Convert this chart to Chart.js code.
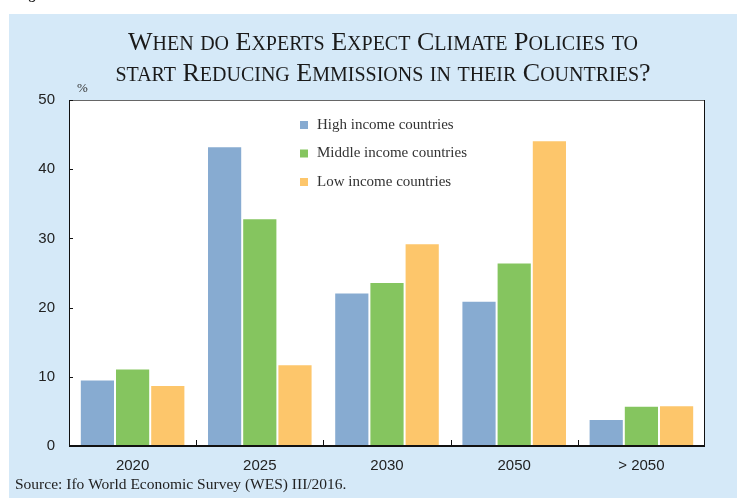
<!DOCTYPE html>
<html>
<head>
<meta charset="utf-8">
<script src="https://cdn.jsdelivr.net/npm/chart.js@4.4.0/dist/chart.umd.min.js"></script>
<style>
  html, body { margin: 0; padding: 0; background: #ffffff; }
  #chart { display: block; }
</style>
</head>
<body>
<canvas id="chart" width="737" height="498"></canvas>
<script>
const categories = ['2020', '2025', '2030', '2050', '> 2050'];
const highIncome = [9.6, 43.3, 22.2, 21.0, 3.9];
const middleIncome = [11.2, 32.9, 23.7, 26.5, 5.8];
const lowIncome = [8.8, 11.8, 29.3, 44.2, 5.9];
const seriesNames = ['High income countries', 'Middle income countries', 'Low income countries'];
const titleLines = ['When do Experts Expect Climate Policies to', 'start Reducing Emmissions in their Countries?'];
const sourceText = 'Source: Ifo World Economic Survey (WES) III/2016.';

const colors = ['#87abd1', '#85c55f', '#fdc66b'];
const serif = '"Liberation Serif", "Times New Roman", serif';
const sans = '"Liberation Sans", Arial, sans-serif';

// draw one line of text in small caps: capitals big, lower case as small capitals
function drawSmallCaps(ctx, text, cx, baseline, big, small) {
    const runs = [];
    for (const ch of text) {
        const isLower = ch !== ch.toUpperCase();
        const size = isLower ? small : big;
        const last = runs[runs.length - 1];
        if (last && last.size === size) last.text += ch.toUpperCase();
        else runs.push({ text: ch.toUpperCase(), size: size });
    }
    let width = 0;
    runs.forEach(r => {
        ctx.font = r.size + 'px ' + serif;
        r.w = ctx.measureText(r.text).width;
        width += r.w;
    });
    let x = cx - width / 2;
    ctx.textAlign = 'left';
    ctx.textBaseline = 'alphabetic';
    runs.forEach(r => {
        ctx.font = r.size + 'px ' + serif;
        ctx.fillText(r.text, x, baseline);
        x += r.w;
    });
}

const decorations = {
    id: 'decorations',
    beforeDraw(chart) {
        const ctx = chart.ctx;
        const area = chart.chartArea;
        ctx.save();
        // panel background
        ctx.fillStyle = '#d5e9f8';
        ctx.fillRect(9, 14, chart.width - 9, chart.height - 14);
        // cut-off heading above the panel
        ctx.fillStyle = '#222';
        ctx.font = 'bold 14px ' + serif;
        ctx.textBaseline = 'alphabetic';
        ctx.fillText('Figure', 16, -1);
        // plot area
        ctx.fillStyle = '#ffffff';
        ctx.fillRect(area.left, area.top, area.right - area.left, area.bottom - area.top);
        // title
        ctx.fillStyle = '#1a1a1a';
        const cx = 383;
        drawSmallCaps(ctx, titleLines[0], cx, 50, 26, 20);
        drawSmallCaps(ctx, titleLines[1], cx, 81, 26, 20);
        // unit
        ctx.font = '13px ' + serif;
        ctx.fillStyle = '#333';
        ctx.textAlign = 'left';
        ctx.fillText('%', 77, 92);
        // source
        ctx.font = '15.5px ' + serif;
        ctx.fillStyle = '#222';
        ctx.fillText(sourceText, 15, 489);
        ctx.restore();
    },
    afterDraw(chart) {
        const ctx = chart.ctx;
        const area = chart.chartArea;
        const y = chart.scales.y;
        const x = chart.scales.x;
        ctx.save();
        // frame
        ctx.lineWidth = 1;
        ctx.strokeStyle = '#666';
        ctx.beginPath();
        ctx.moveTo(area.left, area.top + 0.5);
        ctx.lineTo(area.right, area.top + 0.5);
        ctx.stroke();
        ctx.strokeStyle = '#111';
        ctx.beginPath();
        ctx.moveTo(area.left + 0.5, area.top);
        ctx.lineTo(area.left + 0.5, area.bottom);
        ctx.moveTo(area.right - 0.5, area.top);
        ctx.lineTo(area.right - 0.5, area.bottom);
        ctx.stroke();
        ctx.lineWidth = 2;
        ctx.beginPath();
        ctx.moveTo(area.left, area.bottom);
        ctx.lineTo(area.right, area.bottom);
        ctx.stroke();
        // inward ticks
        ctx.lineWidth = 1;
        ctx.beginPath();
        y.ticks.forEach(t => {
            const py = Math.round(y.getPixelForValue(t.value)) + 0.5;
            ctx.moveTo(area.left, py);
            ctx.lineTo(area.left + 4, py);
        });
        for (let i = 1; i < categories.length; i++) {
            const px = Math.round((x.getPixelForValue(i - 1) + x.getPixelForValue(i)) / 2) + 0.5;
            ctx.moveTo(px, area.bottom);
            ctx.lineTo(px, area.bottom - 6);
        }
        ctx.stroke();
        // legend inside the plot
        ctx.font = '15px ' + serif;
        ctx.textAlign = 'left';
        ctx.textBaseline = 'middle';
        chart.data.datasets.forEach((ds, i) => {
            const ry = 125 + i * 28.5;
            ctx.fillStyle = ds.backgroundColor;
            ctx.fillRect(300, ry - 4, 8, 8);
            ctx.fillStyle = '#333';
            ctx.fillText(ds.label, 317, ry);
        });
        ctx.restore();
    }
};

new Chart(document.getElementById('chart'), {
    type: 'bar',
    data: {
        labels: categories,
        datasets: [
            { label: seriesNames[0], data: highIncome, backgroundColor: colors[0] },
            { label: seriesNames[1], data: middleIncome, backgroundColor: colors[1] },
            { label: seriesNames[2], data: lowIncome, backgroundColor: colors[2] }
        ]
    },
    options: {
        responsive: false,
        animation: false,
        layout: { padding: { top: 100, right: 32, left: 0, bottom: 0 } },
        datasets: {
            bar: {
                categoryPercentage: 0.83,
                barPercentage: 1,
                borderWidth: 1,
                borderColor: 'rgba(255,255,255,0.55)'
            }
        },
        scales: {
            x: {
                grid: { display: false, drawTicks: false },
                border: { display: false },
                ticks: { color: '#222', font: { family: sans, size: 15 }, padding: 11 },
                afterFit(scale) { scale.height = 52; }
            },
            y: {
                min: 0,
                max: 50,
                grid: { display: false, drawTicks: false },
                border: { display: false },
                ticks: { stepSize: 10, color: '#222', font: { family: sans, size: 15 }, padding: 14 },
                afterFit(scale) { scale.width = 69; }
            }
        },
        plugins: {
            legend: { display: false },
            tooltip: { enabled: false }
        }
    },
    plugins: [decorations]
});
</script>
</body>
</html>
